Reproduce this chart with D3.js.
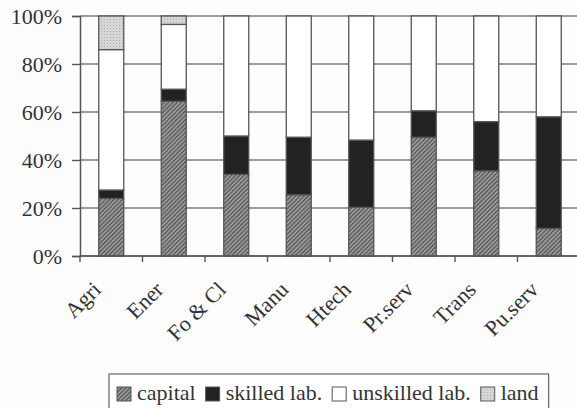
<!DOCTYPE html>
<html lang="en">
<head>
<meta charset="UTF-8">
<title>Factor shares</title>
<script src="https://d3js.org/d3.v7.min.js"></script>
<style>
  body { margin: 0; background: #fdfdfd; font-family: "Liberation Serif", serif; }
  svg text { font-family: "Liberation Serif", serif; }
</style>
</head>
<body>
<div id="chart"></div>
<script>
// shares in percent
const sectors   = ["Agri", "Ener", "Fo & Cl", "Manu", "Htech", "Pr.serv", "Trans", "Pu.serv"];
const capital   = [24, 64.5, 34, 25.5, 20.3, 49.5, 35.5, 11.5];
const skilled   = [3.5, 5, 16, 24, 28, 11, 20.5, 46.5];
const unskilled = [58.5, 27, 50, 50.5, 51.7, 39.5, 44, 42];
const land      = [14, 3.5, 0, 0, 0, 0, 0, 0];
const seriesNames = ["capital", "skilled lab.", "unskilled lab.", "land"];
const yTicks = [0, 20, 40, 60, 80, 100];

const FONT = "Liberation Serif";

function draw() {
    const W = 577, H = 408;
    const margin = {top: 16, right: -3, bottom: 152, left: 80};
    const width = W - margin.left - margin.right,
          height = H - margin.top - margin.bottom;

    const svg = d3.select("#chart").append("svg")
        .attr("width", W).attr("height", H)
        .attr("font-family", FONT);

    const defs = svg.append("defs");
    const hatch = defs.append("pattern")
        .attr("id", "hatch")
        .attr("patternUnits", "userSpaceOnUse")
        .attr("width", 3).attr("height", 3)
        .attr("patternTransform", "rotate(45)");
    hatch.append("rect").attr("width", 3).attr("height", 3).attr("fill", "#a8a8a8");
    hatch.append("rect").attr("width", 1.5).attr("height", 3).attr("fill", "#555");

    const dots = defs.append("pattern")
        .attr("id", "dots")
        .attr("patternUnits", "userSpaceOnUse")
        .attr("width", 3).attr("height", 3);
    dots.append("rect").attr("width", 3).attr("height", 3).attr("fill", "#d6d6d6");
    dots.append("rect").attr("width", 1).attr("height", 1).attr("fill", "#b0b0b0");

    const fills = ["url(#hatch)", "#222", "#fff", "url(#dots)"];

    const g = svg.append("g").attr("transform", `translate(${margin.left},${margin.top})`);

    const rows = sectors.map((s, i) => ({
        sector: s, capital: capital[i], skilled: skilled[i], unskilled: unskilled[i], land: land[i]
    }));
    const stack = d3.stack().keys(["capital", "skilled", "unskilled", "land"])(rows);

    const x = d3.scaleBand().domain(sectors).range([0, width]).paddingInner(0.6).paddingOuter(0.3);
    const y = d3.scaleLinear().domain([0, 100]).range([height, 0]);

    // gridlines
    g.selectAll(".grid").data(yTicks).enter().append("line")
        .attr("x1", 0).attr("x2", width)
        .attr("y1", d => y(d)).attr("y2", d => y(d))
        .attr("stroke", "#7a7a7a").attr("stroke-width", 1.4);

    // bars
    stack.forEach((layer, k) => {
        g.append("g").selectAll("rect")
            .data(layer.filter(d => d[1] - d[0] > 0))
            .enter().append("rect")
            .attr("x", d => x(d.data.sector))
            .attr("width", x.bandwidth())
            .attr("y", d => y(d[1]))
            .attr("height", d => y(d[0]) - y(d[1]))
            .attr("fill", fills[k])
            .attr("stroke", "#555").attr("stroke-width", 1.3);
    });

    // y axis
    const yAxis = g.append("g")
        .call(d3.axisLeft(y).tickValues(yTicks).tickFormat(d => d + "%").tickSize(8).tickPadding(10))
        .attr("font-family", FONT).attr("font-size", 22);
    yAxis.select(".domain").attr("stroke", "#555").attr("stroke-width", 1.5);
    yAxis.selectAll(".tick line").attr("stroke", "#555").attr("stroke-width", 1.4);
    yAxis.selectAll("text").attr("fill", "#333");

    // x axis with ticks at band boundaries
    const xg = g.append("g").attr("transform", `translate(0,${height})`);
    xg.append("line").attr("x1", 0).attr("x2", width).attr("stroke", "#555").attr("stroke-width", 1.5);
    const bounds = d3.range(sectors.length + 1).map(i => i * x.step());
    xg.selectAll(".xt").data(bounds).enter().append("line")
        .attr("x1", d => d).attr("x2", d => d).attr("y1", 0).attr("y2", 6)
        .attr("stroke", "#555").attr("stroke-width", 1.4);
    xg.selectAll(".xl").data(sectors).enter().append("text")
        .attr("transform", d => `translate(${x(d) + x.bandwidth() / 2 - 9},${35}) rotate(-45)`)
        .attr("text-anchor", "end")
        .attr("fill", "#333")
        .attr("font-size", 22)
        .text(d => d);

    // legend
    const leg = svg.append("g").attr("transform", "translate(109,374)");
    const legBox = leg.append("rect").attr("height", 36).attr("fill", "#fff")
        .attr("stroke", "#666").attr("stroke-width", 1.2);
    let lx = 8;
    seriesNames.forEach((name, k) => {
        leg.append("rect").attr("x", lx).attr("y", 13).attr("width", 14).attr("height", 14)
            .attr("fill", fills[k]).attr("stroke", "#555").attr("stroke-width", 1);
        const t = leg.append("text").attr("x", lx + 20).attr("y", 26)
            .attr("fill", "#333")
            .attr("font-size", 22).text(name);
        lx += 20 + t.node().getComputedTextLength() + 10;
    });
    legBox.attr("width", lx);
}

if (document.fonts && document.fonts.load) {
    document.fonts.load("22px 'Liberation Serif'").then(draw, draw);
} else {
    draw();
}
</script>
</body>
</html>
